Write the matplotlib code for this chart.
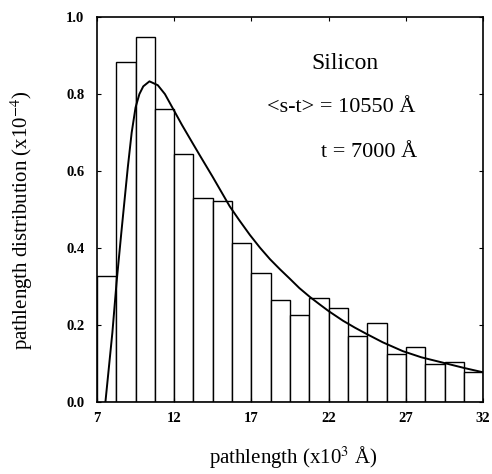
import numpy as np
import matplotlib.pyplot as plt

# histogram: bin edges (x10^3 A) and heights (x10^-4)
bin_edges = [7.0, 8.25, 9.5, 10.75, 12.0, 13.25, 14.5, 15.75, 17.0, 18.25, 19.5,
             20.75, 22.0, 23.25, 24.5, 25.75, 27.0, 28.25, 29.5, 30.75, 32.0]
heights = [0.327, 0.884, 0.949, 0.760, 0.643, 0.529, 0.522, 0.412, 0.336, 0.265,
           0.226, 0.269, 0.243, 0.172, 0.206, 0.124, 0.144, 0.098, 0.103, 0.077]

# fitted curve
curve_x = [7.55, 8.0, 8.27, 8.58, 9.0, 9.25, 9.5, 9.75, 10.0, 10.4, 10.94, 11.4,
           11.91, 12.5, 13.2, 13.67, 14.49, 15.6, 16.2, 16.9, 17.55, 18.2, 18.84,
           19.49, 20.1, 20.78, 21.4, 22.0, 22.93, 23.7, 24.44, 25.5, 26.8, 28.0,
           29.6, 30.8, 32.0]
curve_y = [0.0, 0.18, 0.31, 0.44, 0.61, 0.70, 0.765, 0.80, 0.82, 0.833, 0.823, 0.80,
           0.763, 0.72, 0.672, 0.64, 0.585, 0.508, 0.473, 0.434, 0.401, 0.371, 0.345,
           0.320, 0.296, 0.273, 0.254, 0.236, 0.211, 0.193, 0.177, 0.155, 0.132, 0.116,
           0.100, 0.088, 0.077]

plt.rcParams['font.family'] = ['Liberation Serif', 'DejaVu Serif']
plt.rcParams['mathtext.fontset'] = 'stix'

fig = plt.figure(figsize=(4.92, 4.74), dpi=100)
ax = fig.add_axes([0.197, 0.152, 0.785, 0.812])

widths = np.diff(bin_edges)
ax.bar(bin_edges[:-1], heights, width=widths, align='edge',
       color='white', edgecolor='black', linewidth=1.0)
ax.plot(curve_x, curve_y, color='black', linewidth=1.4)

ax.set_xlim(7, 32)
ax.set_ylim(0, 1.0)
ax.set_xticks([7, 12, 17, 22, 27, 32])
ax.set_yticks([0.0, 0.2, 0.4, 0.6, 0.8, 1.0])
ax.set_yticklabels(['0.0', '0.2', '0.4', '0.6', '0.8', '1.0'])
ax.tick_params(direction='in', top=True, right=True, length=3, labelsize=10.5)
ax.tick_params(axis='x', pad=7)
ax.tick_params(axis='y', pad=9)
for lab in ax.get_xticklabels() + ax.get_yticklabels():
    lab.set_fontweight('bold')
for s in ax.spines.values():
    s.set_linewidth(1.2)

fig.text(293 / 492, 1 - 458 / 474, 'pathlength (x10$^{3}$ Å)', fontsize=15,
         ha='center', va='center')
fig.text(22 / 492, 1 - 220 / 474, 'pathlength distribution (x10$^{-4}$)', fontsize=15,
         ha='center', va='center', rotation=90)

ax.text(23.04, 0.88, 'Silicon', fontsize=17, ha='center', va='center')
ax.text(22.8, 0.764, '<s-t> = 10550 Å', fontsize=16, ha='center', va='center')
ax.text(24.6, 0.647, 't = 7000 Å', fontsize=16, ha='center', va='center')

fig.savefig('out.png', dpi=100)
